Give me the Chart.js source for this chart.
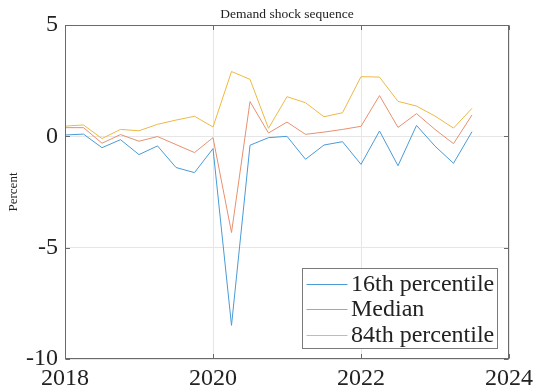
<!DOCTYPE html>
<html>
<head>
<meta charset="utf-8">
<script src="https://cdn.jsdelivr.net/npm/chart.js@4/dist/chart.umd.min.js"></script>
<style>
  html, body { margin: 0; padding: 0; background: #fff; }
  #wrap { width: 536px; height: 388px; }
</style>
</head>
<body>
<div id="wrap"><canvas id="c" width="536" height="388"></canvas></div>
<script>
// Quarterly observations, 2018Q1 - 2023Q3 (decimal years)
const periods = [
  2018.00, 2018.25, 2018.50, 2018.75,
  2019.00, 2019.25, 2019.50, 2019.75,
  2020.00, 2020.25, 2020.50, 2020.75,
  2021.00, 2021.25, 2021.50, 2021.75,
  2022.00, 2022.25, 2022.50, 2022.75,
  2023.00, 2023.25, 2023.50
];

// Demand shock sequence, percent
const p16 = [
  0.06, 0.10, -0.51, -0.15,
  -0.82, -0.43, -1.40, -1.63,
  -0.55, -8.49, -0.40, -0.06,
  0.00, -1.03, -0.39, -0.24,
  -1.26, 0.24, -1.32, 0.49,
  -0.44, -1.21, 0.21
];
const median = [
  0.39, 0.39, -0.31, 0.08,
  -0.22, -0.01, -0.37, -0.73,
  -0.06, -4.32, 1.56, 0.15,
  0.64, 0.09, 0.19, 0.31,
  0.45, 1.83, 0.40, 1.02,
  0.31, -0.33, 0.96
];
const p84 = [
  0.46, 0.51, -0.10, 0.31,
  0.25, 0.54, 0.73, 0.90,
  0.42, 2.91, 2.56, 0.36,
  1.78, 1.51, 0.88, 1.06,
  2.68, 2.66, 1.57, 1.36,
  0.91, 0.37, 1.26
];

const seriesNames = ['16th percentile', 'Median', '84th percentile'];
const xTicks = [2018, 2020, 2022, 2024];
const yTicks = [-10, -5, 0, 5];
const titleText = 'Demand shock sequence';
const yAxisTitle = 'Percent';

const SERIF = '"Liberation Serif", "DejaVu Serif", serif';
const colors = ['#4a9bd6', '#e8906e', '#ecba45'];
const axisColor = '#6a6a6a';

function toPoints(values) {
  return values.map((v, i) => ({ x: periods[i], y: v }));
}

// Box, inward ticks, title, y-axis label and an inset legend
const frame = {
  id: 'frame',
  afterDraw(chart) {
    const { ctx, chartArea: a, scales } = chart;
    const L = Math.round(a.left) + 0.5, R = Math.round(a.right) - 0.5;
    const T = Math.round(a.top) + 0.5, B = Math.round(a.bottom) - 0.5;
    ctx.save();
    ctx.strokeStyle = axisColor;
    ctx.lineWidth = 1;
    ctx.strokeRect(L, T, R - L, B - T);

    const tl = 4.5;
    ctx.beginPath();
    xTicks.forEach(v => {
      const x = Math.round(scales.x.getPixelForValue(v)) + 0.5;
      ctx.moveTo(x, B); ctx.lineTo(x, B - tl);
      ctx.moveTo(x, T); ctx.lineTo(x, T + tl);
    });
    yTicks.forEach(v => {
      const y = Math.round(scales.y.getPixelForValue(v)) + 0.5;
      ctx.moveTo(L, y); ctx.lineTo(L + tl, y);
      ctx.moveTo(R, y); ctx.lineTo(R - tl, y);
    });
    ctx.stroke();

    // title
    ctx.fillStyle = '#222';
    ctx.font = '13.5px ' + SERIF;
    ctx.textAlign = 'center';
    ctx.textBaseline = 'middle';
    ctx.fillText(titleText, (a.left + a.right) / 2, 14);

    // y-axis label
    ctx.save();
    ctx.translate(14, (a.top + a.bottom) / 2);
    ctx.rotate(-Math.PI / 2);
    ctx.font = '13px ' + SERIF;
    ctx.fillText(yAxisTitle, 0, 0);
    ctx.restore();

    // legend
    const lx = 302.5, ly = 268.5, lw = 195, lh = 80;
    ctx.fillStyle = '#fff';
    ctx.fillRect(lx, ly, lw, lh);
    ctx.strokeStyle = '#7a7a7a';
    ctx.strokeRect(lx, ly, lw, lh);
    ctx.font = '24px ' + SERIF;
    ctx.textAlign = 'left';
    ctx.textBaseline = 'middle';
    chart.data.datasets.forEach((ds, i) => {
      const y = 283.5 + i * 25.5;
      ctx.strokeStyle = ds.borderColor;
      ctx.lineWidth = 1;
      ctx.beginPath();
      ctx.moveTo(306.5, Math.round(y) + 0.5);
      ctx.lineTo(347.5, Math.round(y) + 0.5);
      ctx.stroke();
      ctx.fillStyle = '#222';
      ctx.fillText(ds.label, 351, y + 1);
    });
    ctx.restore();
  }
};

new Chart(document.getElementById('c'), {
  type: 'line',
  data: {
    datasets: [
      { label: seriesNames[0], data: toPoints(p16), borderColor: colors[0] },
      { label: seriesNames[1], data: toPoints(median), borderColor: colors[1] },
      { label: seriesNames[2], data: toPoints(p84), borderColor: colors[2] }
    ].map(d => Object.assign(d, {
      borderWidth: 1, pointRadius: 0, tension: 0, fill: false
    }))
  },
  options: {
    responsive: false,
    devicePixelRatio: 1,
    animation: false,
    layout: { padding: { top: 25, right: 27, left: 0, bottom: 0 } },
    plugins: { legend: { display: false }, title: { display: false }, tooltip: { enabled: false } },
    scales: {
      x: {
        type: 'linear',
        min: 2018, max: 2024,
        afterBuildTicks(s) { s.ticks = xTicks.map(v => ({ value: v })); },
        afterFit(s) { s.height = 29; s.paddingLeft = 0; s.paddingRight = 0; },
        grid: { color: '#e6e6e6', drawTicks: false, lineWidth: 1 },
        border: { display: false },
        ticks: {
          padding: 5, color: '#222', maxRotation: 0,
          font: { family: SERIF, size: 24 },
          callback: v => String(v)
        }
      },
      y: {
        min: -10, max: 5,
        afterBuildTicks(s) { s.ticks = yTicks.map(v => ({ value: v })); },
        afterFit(s) { s.width = 65; s.paddingTop = 0; s.paddingBottom = 0; },
        grid: { color: '#e6e6e6', drawTicks: false, lineWidth: 1 },
        border: { display: false },
        ticks: {
          padding: 7, color: '#222',
          font: { family: SERIF, size: 24 },
          callback: v => String(v)
        }
      }
    }
  },
  plugins: [frame]
});
</script>
</body>
</html>
